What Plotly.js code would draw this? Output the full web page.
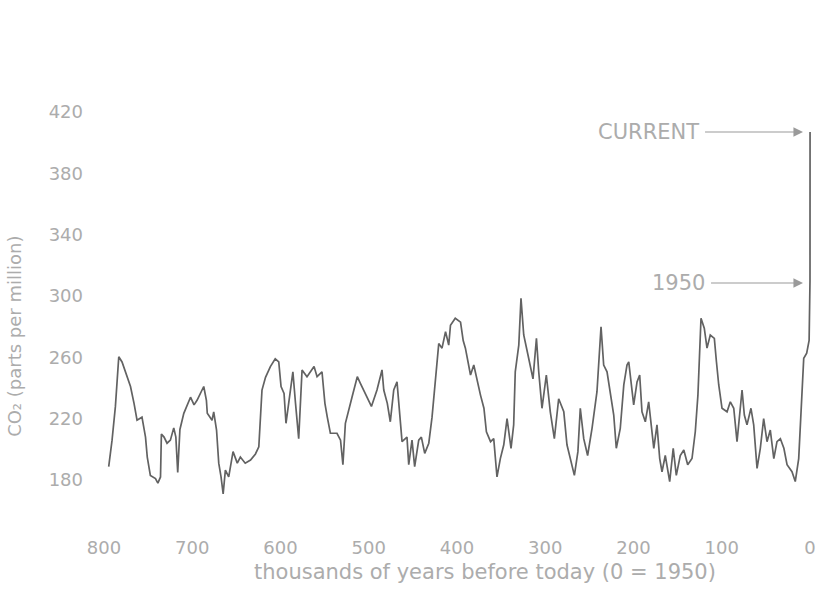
<!DOCTYPE html>
<html>
<head>
<meta charset="utf-8">
<script src="https://cdn.plot.ly/plotly-3.0.1.min.js"></script>
<style>html,body{margin:0;padding:0;background:#fff;}#chart{width:817px;height:607px;}</style>
</head>
<body>
<div id="chart"></div>
<script>
// Thousands of years before 1950 (0 = 1950)
const kyrBefore = [
  794.7, 790.9, 787.1, 783.3, 779.6, 774, 770, 766, 762.6, 757, 753, 751, 747.5, 741.7, 739, 736, 735, 732,
  728.6, 724.8, 721, 718.6, 716.5, 714, 709.6, 702, 698, 694.6, 687, 684, 683, 677.6, 675.7, 672.5,
  670, 667.4, 665, 662.5, 658.7, 653.8, 649, 645.5, 640, 634, 628.4, 624.6, 622.7, 621, 617, 611.5,
  606, 602, 599.4, 596, 593.8, 590.7, 586, 583, 579.4, 575.6, 570, 562, 558.6, 553, 549.7, 547,
  543.5, 536, 532, 529.3, 526.5, 519, 513, 509.5, 504, 497, 490.7, 485, 483, 479, 475.6, 471.7,
  468, 465, 462.3, 456.7, 454.7, 451, 448, 443.4, 440.4, 436.6, 432, 428.3, 424.6, 420.7, 417,
  413, 411, 409.4, 407.4, 402, 396, 393, 390.5, 384.7, 381, 377, 373.4, 369.5, 366.7, 362, 358.4,
  354.7, 350.9, 347, 343.3, 338.8, 335.8, 334, 330, 327.5, 324.4, 318.8, 313.9, 310, 307.4, 303.7,
  298.8, 294.3, 289.7, 284.8, 279, 275.4, 271.6, 267, 263, 260.3, 256.4, 252, 247, 241.4, 236.8,
  233.8, 230, 226.3, 222.4, 219.5, 215, 211, 207.4, 205.4, 203.6, 199.8, 196, 193, 190.4, 186.6,
  182.8, 180.2, 177, 173.4, 170.3, 167.7, 164, 159, 155, 151.5, 147, 143, 138.6, 133.7, 130, 127,
  125, 123.5, 119.8, 116.7, 113, 108.4, 106, 103.4, 99.7, 94, 90.3, 86.4, 82.7, 77, 74.4, 71.4,
  66.9, 63.8, 60, 56.3, 52.5, 48.7, 45, 41, 37.4, 33.6, 29.6, 26, 20.4, 16.7, 12.8, 10.2, 7.1,
  3.75, 1, 0, -0.07
];
// CO2 concentration, parts per million
const co2ppm = [
  188.7, 206, 228, 260.4, 257, 247, 241, 230, 219, 221, 208, 195, 183, 181, 178, 182, 210, 208,
  204, 206, 214, 208, 185, 213, 223.5, 234, 229, 232, 241, 232, 223.5, 219, 224.5, 212.6,
  191, 182, 171, 186.5, 182, 198.5, 191, 195, 191, 193, 197, 201.7, 221, 238.7, 247, 254,
  259, 257, 241, 236.5, 217, 230, 250.6, 230, 207, 251.8, 247.4, 254, 247.4, 250.6, 230, 221,
  210.5, 210.5, 206, 190, 217, 234, 247.4, 243, 236.5, 228, 238.7, 251.8, 238.7, 230, 218, 238.7,
  244, 221, 205, 208, 190, 206, 188.7, 206, 208, 197.4, 204, 221, 245, 269, 266,
  276.7, 272, 268, 281, 285.5, 283, 271, 266, 248.5, 255, 244, 235.4, 226.8, 211.5, 205, 207,
  182, 194, 203, 220, 200.7, 216, 250.6, 268, 298.5, 274.6, 259.4, 246, 272.4, 250.6, 226.8,
  248.5, 224.5, 207, 233, 224.5, 203, 194, 183, 198.5, 226.8, 207, 196, 213.7, 237.6, 280,
  255, 250.6, 237.6, 222.4, 200.7, 213.7, 242, 255, 257, 248.5, 229, 244, 248.5, 224.5, 218,
  231, 216, 200.7, 216, 194, 185.4, 196, 179, 200.7, 183, 196, 199.6, 190, 194, 211.5, 235.4,
  263.7, 285.5, 279, 266, 274.6, 272.4, 257, 242, 226.8, 224.5, 231, 226.8, 205, 238.7, 222.4, 216,
  226.8, 216, 187.6, 200.7, 220, 205, 212.6, 194, 205, 207, 200.7, 190, 185.4, 179, 194, 224.5, 259.4,
  262.8, 271, 310, 407
];
const xTickVals = [800, 700, 600, 500, 400, 300, 200, 100, 0];
const xTickText = ['800', '700', '600', '500', '400', '300', '200', '100', '0'];
const yTickVals = [180, 220, 260, 300, 340, 380, 420];
const yTickText = ['180', '220', '260', '300', '340', '380', '420'];

const txt = '#acacac';
const fontFam = 'DejaVu Sans, Liberation Sans, sans-serif';

const trace = {
  x: kyrBefore, y: co2ppm, type: 'scatter', mode: 'lines',
  line: {color: '#626262', width: 1.7},
  hoverinfo: 'x+y'
};

const layout = {
  width: 817, height: 607,
  margin: {l: 90, r: 5, t: 90, b: 77},
  paper_bgcolor: '#ffffff', plot_bgcolor: '#ffffff',
  showlegend: false,
  font: {family: fontFam, color: txt, size: 18},
  xaxis: {
    range: [815.9, -2.27], tickvals: xTickVals, ticktext: xTickText,
    showgrid: false, zeroline: false, showline: false, ticks: '',
    tickfont: {family: fontFam, size: 18, color: txt}, ticklabelstandoff: 5
  },
  yaxis: {
    range: [147.4, 434.4], tickvals: yTickVals, ticktext: yTickText,
    showgrid: false, zeroline: false, showline: false, ticks: '',
    tickfont: {family: fontFam, size: 18, color: txt}, ticklabelstandoff: 6
  },
  annotations: [
    {xref: 'paper', yref: 'paper', x: -0.104, y: 0.441, xanchor: 'center', yanchor: 'middle',
     text: 'CO₂ (parts per million)', textangle: -90, showarrow: false,
     font: {family: fontFam, size: 18, color: txt}},
    {xref: 'paper', yref: 'paper', x: 0.547, y: -0.0955, xanchor: 'center', yanchor: 'middle',
     text: 'thousands of years before today (0 = 1950)', showarrow: false,
     font: {family: fontFam, size: 21, color: txt}},
    {xref: 'x', yref: 'y', x: 7.9, y: 407, text: 'CURRENT', showarrow: true,
     axref: 'pixel', ayref: 'pixel', ax: -155, ay: 0,
     arrowhead: 2, arrowsize: 1.6, arrowwidth: 1.2, arrowcolor: '#9a9a9a', borderpad: 6,
     font: {family: fontFam, size: 21, color: txt}},
    {xref: 'x', yref: 'y', x: 7.9, y: 308.5, text: '1950', showarrow: true,
     axref: 'pixel', ayref: 'pixel', ax: -125, ay: 0,
     arrowhead: 2, arrowsize: 1.6, arrowwidth: 1.2, arrowcolor: '#9a9a9a', borderpad: 6,
     font: {family: fontFam, size: 21, color: txt}}
  ]
};

Plotly.newPlot('chart', [trace], layout, {displayModeBar: false, staticPlot: true});
</script>
</body>
</html>
